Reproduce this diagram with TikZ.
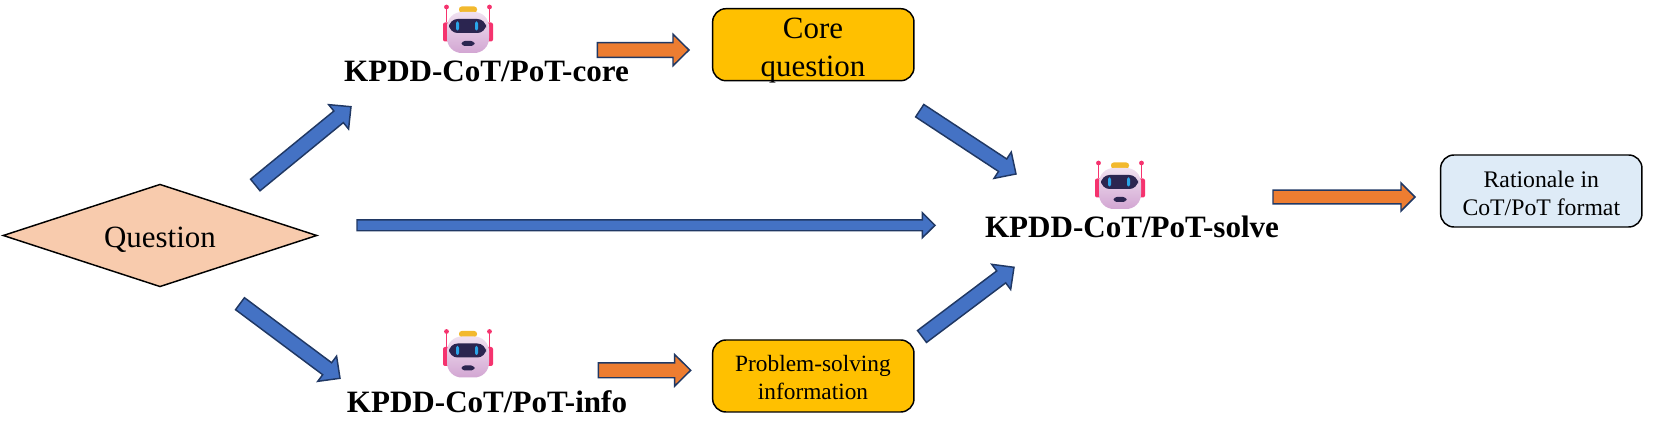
\documentclass[tikz,border=0pt]{standalone}
\usepackage{fontspec}
\setmainfont{Liberation Serif}
\usetikzlibrary{calc,shapes.geometric}
\definecolor{barblue}{HTML}{4472C4}
\definecolor{barorange}{HTML}{ED7D31}
\definecolor{baredge}{HTML}{203864}
\definecolor{boxgold}{HTML}{FFC000}
\definecolor{boxpeach}{HTML}{F8CBAD}
\definecolor{boxpale}{HTML}{DEEBF7}
\definecolor{botpink}{HTML}{F5336E}
\definecolor{botnavy}{HTML}{2B2550}
\definecolor{boteye}{HTML}{2AA5E8}
\definecolor{botcap}{HTML}{F2B92E}
\tikzset{
	blockbar/.style n args={3}{draw=baredge,line width=1.1pt,line join=miter,to path={
		($(\tikztostart)!#1!-90:(\tikztotarget)$) -- ($(\tikztotarget)!#3!(\tikztostart)!#1!-90:(\tikztotarget)$)
		-- ($(\tikztotarget)!#3!(\tikztostart)!#2!-90:(\tikztotarget)$) -- (\tikztotarget)
		-- ($(\tikztotarget)!#3!(\tikztostart)!#2!90:(\tikztotarget)$) -- ($(\tikztotarget)!#3!(\tikztostart)!#1!90:(\tikztotarget)$)
		-- ($(\tikztostart)!#1!90:(\tikztotarget)$) -- cycle}},
	bluebar/.style={blockbar={5.6pt}{11.8pt}{12pt},fill=barblue},
	orangebar/.style={blockbar={5.6pt}{11.8pt}{12pt},fill=barorange},
	roundbox/.style={draw=black,line width=1.1pt,rounded corners=10pt,inner sep=0pt,minimum width=151pt,minimum height=54pt,fill=boxgold},
	boxtext/.style={inner sep=0pt,align=center},
	botlabel/.style={font=\fontsize{23.3pt}{27pt}\selectfont\bfseries,inner sep=0pt,anchor=base},
	robot/.pic={
		\fill[botpink,rounded corners=1.5] (-25,-7) rectangle (25,12);
		\fill[botpink] (-22.3,-7) rectangle (-20.7,-22);
		\fill[botpink] (20.7,-7) rectangle (22.3,-22);
		\fill[botpink] (-21.5,-22.5) circle (2.4);
		\fill[botpink] (21.5,-22.5) circle (2.4);
		\fill[botcap,rounded corners=2] (-9,-23) rectangle (9,-17);
		\shade[top color=white!88!violet,bottom color=white!65!violet,rounded corners=11] (-21,-17.5) rectangle (21,23.5);
		\fill[botnavy,rounded corners=6.5] (-19,-10.5) rectangle (18,3.5);
		\fill[boteye,rounded corners=1.5] (-12,-8) rectangle (-9,1);
		\fill[boteye,rounded corners=1.5] (7,-8) rectangle (10,1);
		\fill[botnavy,rounded corners=2.5] (-6.5,11.5) rectangle (6.5,16.5);
	}
}
\begin{document}
\begin{tikzpicture}[x=0.75pt,y=0.75pt,yscale=-1,xscale=1]
	\useasboundingbox (0,0) rectangle (1661,427);
	\node[diamond,draw=black,line width=1.1pt,fill=boxpeach,inner sep=0pt,aspect=3.05,minimum width=235.5pt,minimum height=77pt] (question) at (160,235.5) {};
	\node[boxtext,font=\fontsize{23.2pt}{27pt}\selectfont] (questiontext) at (160,239.5) {Question};
	\node[roundbox] (corebox) at (813.3,44.7) {};
	\node[boxtext,font=\fontsize{23.2pt}{28.5pt}\selectfont] (coretext) at (813,50.5) {Core\\question};
	\node[roundbox] (infobox) at (813.3,376) {};
	\node[boxtext,font=\fontsize{17.5pt}{21.5pt}\selectfont] (infotext) at (813,377.5) {Problem-solving\\information};
	\node[roundbox,fill=boxpale] (rationale) at (1541.3,191) {};
	\node[boxtext,font=\fontsize{17.8pt}{21.5pt}\selectfont] (rationaletext) at (1541.3,193.5) {Rationale in\\CoT/PoT format};
	\node[botlabel] (corelabel) at (486.5,82) {KPDD-CoT/PoT-core};
	\node[botlabel] (infolabel) at (487,413) {KPDD-CoT/PoT-info};
	\node[botlabel] (solvelabel) at (1132,237.7) {KPDD-CoT/PoT-solve};
	\pic[yscale=-1] at (468,29.5) {robot};
	\pic[yscale=-1] at (468,354) {robot};
	\pic[yscale=-1] at (1120,185.5) {robot};
	% blue bars
	\coordinate (a1) at (255.3,185);
	\coordinate (a2) at (351,106.7);
	\coordinate (b1) at (357,225.3);
	\coordinate (b2) at (935,225.3);
	\coordinate (c1) at (240,303.7);
	\coordinate (c2) at (340,378.3);
	\coordinate (d1) at (919.7,110.7);
	\coordinate (d2) at (1016,174);
	\coordinate (e1) at (922,336.5);
	\coordinate (e2) at (1014,267.3);
	\draw[bluebar] (a1) to (a2);
	\draw[blockbar={4.1pt}{9.4pt}{9.5pt},fill=barblue] (b1) to (b2);
	\draw[bluebar] (c1) to (c2);
	\draw[bluebar] (d1) to (d2);
	\draw[bluebar] (e1) to (e2);
	% orange bars
	\coordinate (f1) at (597.3,50);
	\coordinate (f2) at (689,50);
	\coordinate (g1) at (598.3,370.3);
	\coordinate (g2) at (690.7,370.3);
	\coordinate (h1) at (1273,197);
	\coordinate (h2) at (1415,197);
	\draw[orangebar] (f1) to (f2);
	\draw[orangebar] (g1) to (g2);
	\draw[blockbar={5.2pt}{10.5pt}{10.5pt},fill=barorange] (h1) to (h2);
\end{tikzpicture}
\end{document}
